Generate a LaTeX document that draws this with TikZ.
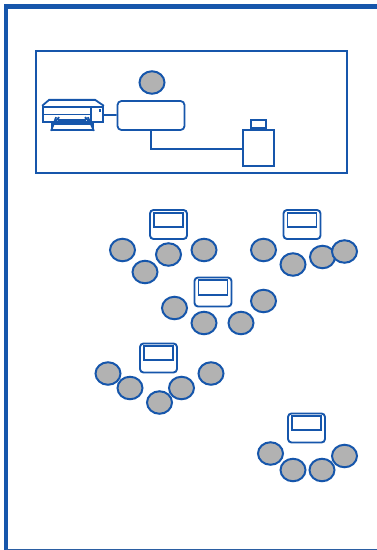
\documentclass[tikz,border=0pt]{standalone}
\usetikzlibrary{positioning,calc,shapes.geometric}
\definecolor{planblue}{HTML}{1656AB}
\definecolor{seatgrey}{HTML}{B2B2B2}
\tikzset{
  person/.style  = {draw=planblue, line width=2pt, fill=seatgrey, ellipse, minimum width=25pt, minimum height=22.5pt, inner sep=0pt},
  desk/.style    = {draw=planblue, line width=1.9pt, rounded corners=3.5pt, minimum width=37pt, minimum height=29pt, inner sep=0pt},
  screen/.style  = {draw=planblue, line width=1.9pt, minimum width=29pt, minimum height=14.5pt, inner sep=0pt},
  wall/.style    = {draw=planblue, line width=4.2pt},
  wire/.style    = {draw=planblue, line width=1.8pt},
  device/.style  = {draw=planblue, line width=1.8pt, inner sep=0pt},
}
\begin{document}
\begin{tikzpicture}[x=1pt, y=-1pt]
  \useasboundingbox (0,0) rectangle (377,550);
  % walls
  \coordinate (wallbot) at (6,550);
  \coordinate (wallcorner) at (6,6.5);
  \coordinate (wallend) at (377,6.5);
  \draw[wall] (wallbot) -- (wallcorner) -- (wallend);
  \coordinate (floorleft) at (6,549.5);
  \coordinate (floorright) at (377,549.5);
  \draw[draw=planblue!80!gray, line width=1pt] (floorleft) -- (floorright);
  % meeting room
  \node[draw=planblue, line width=2.8pt, minimum width=311pt, minimum height=122pt, inner sep=0pt] (room) at (191.5,112) {};
  \node[person] (chair) at (152,82.5) {};
  \node[device, rounded corners=4pt, minimum width=67pt, minimum height=29pt] (table) at (151,115.5) {};
  \node[device, minimum width=31pt, minimum height=36pt, line width=2pt] (cabinet) at (258.5,148) {};
  \node[device, minimum width=15pt, minimum height=8pt, above=0pt of cabinet] (cablid) {};
  % printer
  \node[device, minimum width=60pt, minimum height=15.5pt] (printer) at (73,114.5) {};
  \draw[wire] (printer.north west) -- ++(7,-6) -- ++(46,0) -- (printer.north east);
  \draw[wire] (printer.west) -- ($(printer.east)+(-13,0)$);
  \draw[wire] ($(printer.north east)+(-13,0)$) -- ($(printer.south east)+(-13,0)$);
  \node[fill=planblue, minimum size=2.5pt, inner sep=0pt] (button) at (100,110.5) {};
  \node[device, minimum width=41pt, minimum height=6pt] (tray) at (72.5,127) {};
  \draw[wire] ($(printer.south west)+(14,-6)$) -- (tray.south west);
  \draw[wire] ($(printer.south west)+(17,-6)$) -- ($(tray.north west)+(3,0)$);
  \draw[wire] ($(printer.south east)+(-16,-6)$) -- (tray.south east);
  \draw[wire] ($(printer.south east)+(-19,-6)$) -- ($(tray.north east)+(-3,0)$);
  \draw[wire] ($(printer.south west)+(16,-3)$) -- ($(printer.south east)+(-18,-3)$);
  \draw[wire] (printer) -- (table);
  \draw[wire] (table.south) |- ($(cabinet.west)+(0,1)$);
  % desk group A
  \node[desk] (deska) at (168.5,224.5) {};
  \node[screen] (screena) at (168.5,220) {};
  \node[person] at (122.5,250) (pa1) {};
  \node[person] at (145,272) (pa2) {};
  \node[person] at (168.5,254.5) (pa3) {};
  \node[person] at (204,250) (pa4) {};
  % desk group B
  \node[desk] (deskb) at (302,224.5) {};
  \node[screen] (screenb) at (302,220) {};
  \node[person] at (263.5,250) (pb1) {};
  \node[person] at (293,264.5) (pb2) {};
  \node[person] at (322.5,257) (pb3) {};
  \node[person] at (344.5,251.5) (pb4) {};
  % desk group C
  \node[desk] (deskc) at (213,292) {};
  \node[screen] (screenc) at (213,287.5) {};
  \node[person] at (174.5,308) (pc1) {};
  \node[person] at (204,323) (pc2) {};
  \node[person] at (241,323) (pc3) {};
  \node[person] at (263.5,301) (pc4) {};
  % desk group D
  \node[desk] (deskd) at (158.5,358) {};
  \node[screen] (screend) at (158.5,353) {};
  \node[person] at (108,373.5) (pd1) {};
  \node[person] at (130,388) (pd2) {};
  \node[person] at (159.5,402.5) (pd3) {};
  \node[person] at (181.5,388) (pd4) {};
  \node[person] at (211,373.5) (pd5) {};
  % desk group E
  \node[desk] (deske) at (306.5,428) {};
  \node[screen] (screene) at (306.5,423) {};
  \node[person] at (270.5,453.5) (pe1) {};
  \node[person] at (293,470) (pe2) {};
  \node[person] at (322,470) (pe3) {};
  \node[person] at (344.5,456) (pe4) {};
\end{tikzpicture}
\end{document}
